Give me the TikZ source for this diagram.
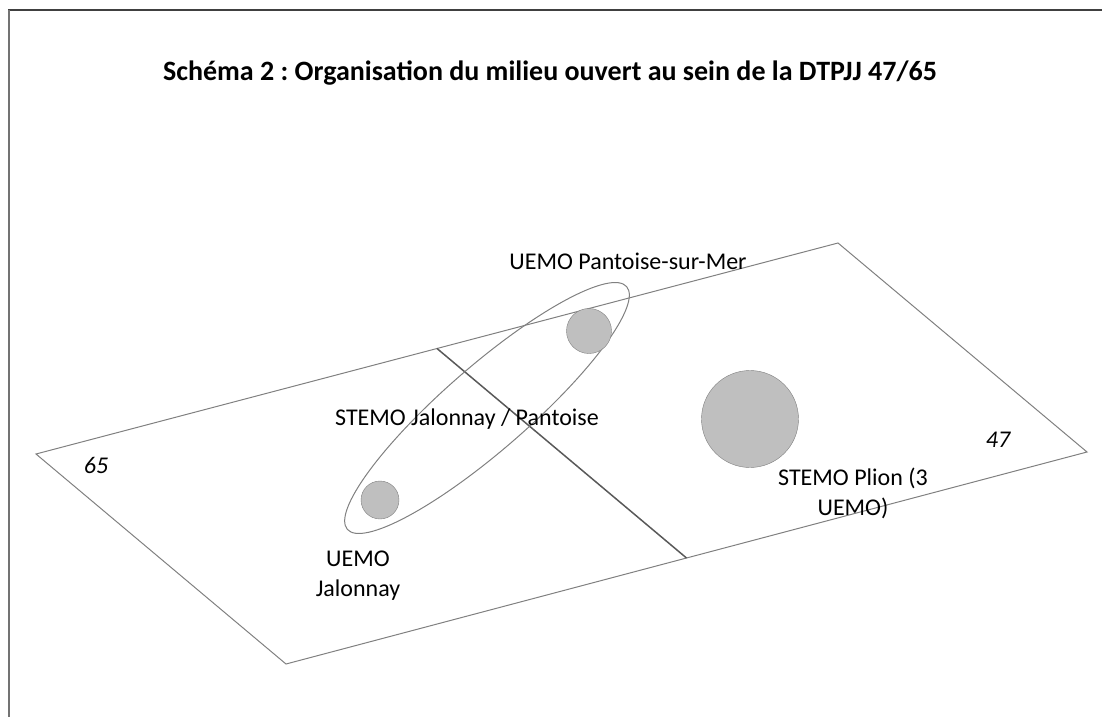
\documentclass[tikz,border=0pt]{standalone}
\usepackage{fontspec}
\setmainfont{Carlito}
\frenchspacing
\usepackage{tikz}
\usetikzlibrary{calc,shapes.geometric}

\tikzset{
	uemo/.style={circle, draw=black!50, fill=black!25, inner sep=0pt},
	lbl/.style={anchor=base, align=center, font=\fontsize{24}{29.5}\selectfont},
	dep/.style={anchor=base, font=\fontsize{24}{29.5}\selectfont\itshape}
}

\begin{document}
\begin{tikzpicture}[x=1pt, y=-1pt]
		\useasboundingbox (0,0) rectangle (1102,717);
		\draw[black!75, line width=2pt] (8,10) -- (1102,10);
		\draw[black!55, line width=2pt] (9,10) -- (9,717);
		\node[anchor=base, font=\fontsize{28}{34}\selectfont\bfseries] (titre) at (550,80) {Schéma 2 : Organisation du milieu ouvert au sein de la DTPJJ 47/65};
		\coordinate (w) at (36,454);
		\coordinate (n) at (838,243);
		\coordinate (e) at (1087,452);
		\coordinate (s) at (286,664);
		\draw[black!50, line width=1pt] (w) -- (n) -- (e) -- (s) -- cycle;
		\draw[black!65, line width=1.5pt] ($(w)!.5!(n)$) -- ($(s)!.5!(e)$);
		\node[ellipse, draw=black!50, line width=1pt, inner sep=0pt, minimum width=370pt, minimum height=84pt, rotate=41] (stemojp) at (487,408) {};
		\node[uemo, minimum size=45pt] (pantoise) at (589,331) {};
		\node[uemo, minimum size=38pt] (jalonnay) at (380,500) {};
		\node[uemo, minimum size=97pt] (plion) at (750,419) {};
		\node[lbl] (tpantoise) at (628,269) {UEMO Pantoise-sur-Mer};
		\node[lbl] (tstemojp) at (467,425) {STEMO Jalonnay / Pantoise};
		\node[lbl] (tplion) at (853,515) {STEMO Plion (3\\UEMO)};
		\node[lbl] (tjalonnay) at (358,596) {UEMO\\Jalonnay};
		\node[dep] (d65) at (96,473) {65};
		\node[dep] (d47) at (998,447) {47};
	\end{tikzpicture}
\end{document}
